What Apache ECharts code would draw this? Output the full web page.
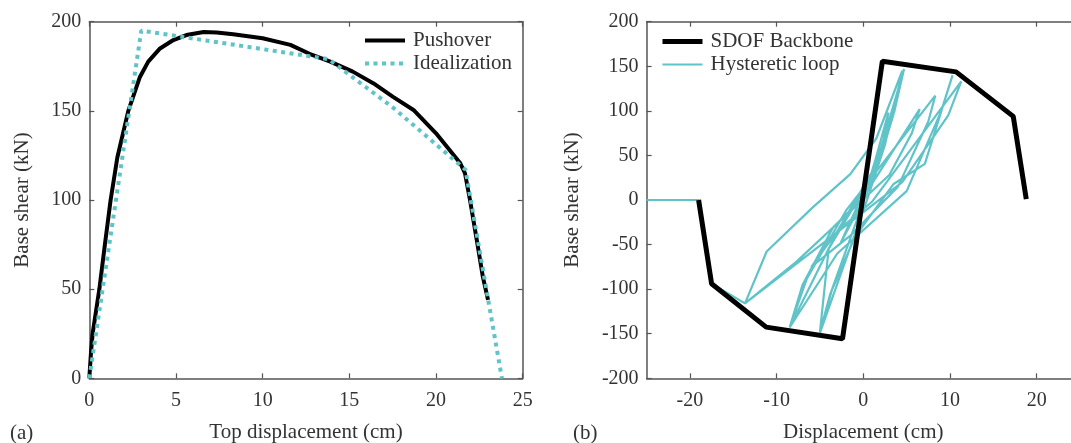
<!DOCTYPE html>
<html>
<head>
<meta charset="utf-8">
<script src="https://cdn.jsdelivr.net/npm/echarts@6/dist/echarts.min.js"></script>
<style>
  html, body { margin: 0; padding: 0; background: #fff; }
  #chart { width: 1071px; height: 443px; }
</style>
</head>
<body>
<div id="chart"></div>
<script>
// (a) pushover curve and its bilinear idealization
const pushoverX = [0, 0.1, 0.19, 0.58, 0.9, 1.23, 1.62, 2.25, 2.92, 3.4, 4.08, 4.85, 5.6, 6.6, 7.35, 8.3, 10.0, 11.6, 12.7, 13.9, 15.2, 16.4, 17.5, 18.7, 20.0, 21.4, 21.67, 21.96, 22.35, 22.7, 23.0];
const pushoverY = [0, 15, 25, 50, 75, 100, 124, 150, 169, 177.6, 185, 189.7, 192.5, 194.2, 194, 193, 190.7, 187, 182, 177.6, 172, 165.4, 158, 150.5, 137.4, 120.6, 115, 100, 77.6, 57, 44];
const idealX = [0, 3.0, 13.8, 17.5, 21.7, 23.8];
const idealY = [0, 195, 179, 152, 117, 0];

// (b) SDOF backbone and hysteretic response
const backboneX = [-19.0, -17.5, -11.2, -2.4, 2.2, 10.7, 17.3, 18.8];
const backboneY = [0, -94, -142.6, -155.7, 155.7, 143.7, 93.8, 1];
const hystX = [0, 1.4, 2.9, 2.2, 0.3, -2.6, -1.2, 1.0, 3.2, 2.5, 0.5, -5.0, -3.6, -1.2, 1.2, 4.7, 3.6, 2.0, -3.0, -8.5, -7.0, -3.5, 0, 6.5, 5.6, 3.0, -7.8, -13.65, -11.15, -5.8, -1.5, 1.5, 4.5, 3.4, 1.5, -4.0, -5.0, -3.8, -1.0, 3.5, 7.1, 10.3, 9.0, 5.0, -3.0, -8.5, -6.5, -2.0, 8.3, 7.5, 4.0, -1.5, -6.0, -3.0, 1.0, 11.3, 9.8, 4.5, -13.65, -17.5, -19.0, -25.0];
const hystY = [0, 45, 98, 60, 5, -48, -18, 28, 92, 62, 2, -149, -100, -35, 30, 147, 100, 48, -35, -143, -95, -31, 3, 102, 75, 28, -70, -116, -57.8, -8, 29, 69, 145, 95, 35, -55, -148, -105, -42, 18, 40.5, 140, 100, 10, -60, -143, -88, -12, 117, 88, 15, -40, -75, -35, -2, 133, 95, 20, -116, -94, 0, 0];

// tick values
const xTicksA = [0, 5, 10, 15, 20, 25];
const yTicksA = [0, 50, 100, 150, 200];
const xTicksB = [-20, -10, 0, 10, 20];
const yTicksB = [-200, -150, -100, -50, 0, 50, 100, 150, 200];

const zip = (xs, ys) => xs.map((x, i) => [x, ys[i]]);

const FONT = 'Liberation Serif';
const AXIS_COLOR = '#555';
const TEXT_COLOR = '#333';
const TEAL = '#5fc3c8';

function axis(gridIndex, dim, pos, min, max, ticks, opts) {
  const main = pos === 'bottom' || pos === 'left';
  const a = {
    gridIndex, type: 'value', position: pos, min, max,
    axisLine: { show: true, onZero: false, lineStyle: { color: AXIS_COLOR, width: 1.5 } },
    axisTick: { show: true, inside: true, length: 5, customValues: ticks, lineStyle: { color: AXIS_COLOR, width: 1.2 } },
    axisLabel: main ? { show: true, customValues: ticks, color: TEXT_COLOR, fontFamily: FONT, fontSize: 20, margin: dim === 'x' ? 12 : 8 } : { show: false },
    splitLine: { show: false }
  };
  return Object.assign(a, opts || {});
}

const nameStyle = { color: TEXT_COLOR, fontFamily: FONT, fontSize: 21 };

// legend: plain line samples (no point symbol)
const legendBase = {
  orient: 'vertical', itemWidth: 40, itemHeight: 14, itemGap: 2, padding: 0,
  itemStyle: { opacity: 0 },
  lineStyle: { width: 'inherit', type: 'inherit' },
  textStyle: { color: TEXT_COLOR, fontFamily: FONT, fontSize: 21, lineHeight: 21, padding: [0, 0, 0, 3] }
};

const option = {
  animation: false,
  backgroundColor: '#fff',
  grid: [
    { left: 89.3, top: 21.7, width: 433.4, height: 356.6, outerBoundsMode: 'none' },
    { left: 646.6, top: 21.7, width: 433.4, height: 356.6, outerBoundsMode: 'none' }
  ],
  xAxis: [
    axis(0, 'x', 'bottom', 0, 25, xTicksA, { name: 'Top displacement (cm)', nameLocation: 'middle', nameGap: 44, nameTextStyle: nameStyle }),
    axis(0, 'x', 'top', 0, 25, xTicksA),
    axis(1, 'x', 'bottom', -25, 25, xTicksB, { name: 'Displacement (cm)', nameLocation: 'middle', nameGap: 44, nameTextStyle: nameStyle }),
    axis(1, 'x', 'top', -25, 25, xTicksB)
  ],
  yAxis: [
    axis(0, 'y', 'left', 0, 200, yTicksA, { name: 'Base shear (kN)', nameLocation: 'middle', nameGap: 56, nameTextStyle: nameStyle }),
    axis(0, 'y', 'right', 0, 200, yTicksA),
    axis(1, 'y', 'left', -200, 200, yTicksB, { name: 'Base shear (kN)', nameLocation: 'middle', nameGap: 64, nameTextStyle: nameStyle }),
    axis(1, 'y', 'right', -200, 200, yTicksB)
  ],
  legend: [
    Object.assign({ data: ['Pushover', 'Idealization'], left: 363, top: 30 }, legendBase),
    Object.assign({ data: ['SDOF Backbone', 'Hysteretic loop'], left: 660, top: 31 }, legendBase)
  ],
  graphic: [
    { type: 'text', left: 10, top: 423, style: { text: '(a)', fill: TEXT_COLOR, font: '21px "Liberation Serif"' } },
    { type: 'text', left: 573, top: 423, style: { text: '(b)', fill: TEXT_COLOR, font: '21px "Liberation Serif"' } }
  ],
  series: [
    {
      name: 'Pushover', type: 'line', xAxisIndex: 0, yAxisIndex: 0, data: zip(pushoverX, pushoverY),
      symbol: 'none', lineStyle: { color: '#000', width: 4 }, itemStyle: { color: '#000' }, z: 3
    },
    {
      name: 'Idealization', type: 'line', xAxisIndex: 0, yAxisIndex: 0, data: zip(idealX, idealY),
      symbol: 'none', lineStyle: { color: TEAL, width: 4, type: [4, 4.5] }, itemStyle: { color: TEAL }, z: 4
    },
    {
      name: 'Hysteretic loop', type: 'line', xAxisIndex: 2, yAxisIndex: 2, data: zip(hystX, hystY),
      symbol: 'none', lineStyle: { color: TEAL, width: 2.2 }, itemStyle: { color: TEAL }, z: 2
    },
    {
      name: 'SDOF Backbone', type: 'line', xAxisIndex: 2, yAxisIndex: 2, data: zip(backboneX, backboneY),
      symbol: 'none', lineStyle: { color: '#000', width: 5 }, itemStyle: { color: '#000' }, z: 3
    }
  ]
};

const chart = echarts.init(document.getElementById('chart'), null, { renderer: 'canvas' });
chart.setOption(option);
</script>
</body>
</html>
